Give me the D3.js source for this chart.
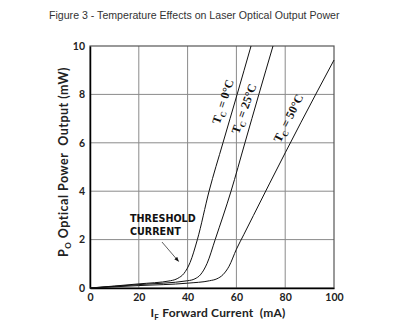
<!DOCTYPE html>
<html>
<head>
<meta charset="utf-8">
<script src="https://cdn.jsdelivr.net/npm/d3@7"></script>
<style>
  body { margin: 0; background: #fff; }
  svg { display: block; }
  text { white-space: pre; }
</style>
</head>
<body>
<div class="chart"></div>
<script>
// readings: [forward current mA, optical power mW]
const tc0 = [[0,0],[20,0.17],[33,0.3],[36,0.4],[38.5,0.6],[41,1.05],[44,2],[48.8,4],[54.5,6],[60.3,8],[66,10]];
const tc25 = [[0,0],[20,0.14],[40,0.3],[43,0.38],[45.2,0.54],[48,1.02],[51.3,2],[57.8,4],[63.5,6],[69.2,8],[75,10]];
const tc50 = [[0,0],[20,0.1],[40,0.2],[49,0.3],[52,0.38],[54.5,0.55],[57,0.9],[60,1.6],[63,2.2],[67,3.0],[73.5,4.3],[86.5,6.85],[100,9.42]];

const xTicks = [0, 20, 40, 60, 80, 100];
const yTicks = [0, 2, 4, 6, 8, 10];
const curveNames = ["0°C", "25°C", "50°C"];

const margin = {top: 46, left: 90, right: 78, bottom: 41};
const W = 412, H = 329;
const width = W - margin.left - margin.right,
      height = H - margin.top - margin.bottom;

const svg = d3.select(".chart").append("svg")
    .attr("width", W)
    .attr("height", H);

svg.append("text")
    .attr("x", 49).attr("y", 19)
    .attr("font-family", "Liberation Sans, Arial, sans-serif")
    .attr("font-size", 10.6)
    .attr("fill", "#333")
    .text("Figure 3 - Temperature Effects on Laser Optical Output Power");

const g = svg.append("g")
    .attr("transform", "translate(" + margin.left + "," + margin.top + ")");

const x = d3.scaleLinear().domain([0, 100]).range([0, width]);
const y = d3.scaleLinear().domain([0, 10]).range([height, 0]);

// grid
g.selectAll(".vgrid").data(xTicks.slice(1, -1)).enter().append("line")
    .attr("x1", d => x(d)).attr("x2", d => x(d))
    .attr("y1", 0).attr("y2", height)
    .attr("stroke", "#8a8a8a").attr("stroke-width", 1);
g.selectAll(".hgrid").data(yTicks.slice(1, -1)).enter().append("line")
    .attr("y1", d => y(d)).attr("y2", d => y(d))
    .attr("x1", 0).attr("x2", width)
    .attr("stroke", "#8a8a8a").attr("stroke-width", 1);

// frame
g.append("rect")
    .attr("width", width).attr("height", height)
    .attr("fill", "none").attr("stroke", "#555").attr("stroke-width", 1.2);

const tickFont = "Lato, 'Open Sans', sans-serif";

const xAxis = g.append("g")
    .attr("transform", "translate(0," + height + ")")
    .call(d3.axisBottom(x).tickValues(xTicks).tickSize(0).tickPadding(6));
const yAxis = g.append("g")
    .call(d3.axisLeft(y).tickValues(yTicks).tickSize(0).tickPadding(5));

[xAxis, yAxis].forEach(ax => {
    ax.select(".domain").attr("stroke", "#000").attr("stroke-width", 1.5);
    ax.selectAll("text")
        .attr("font-family", tickFont)
        .attr("font-weight", "bold")
        .attr("font-size", 10.5)
        .attr("fill", "#222");
});

// curves
const line = d3.line()
    .x(d => x(d[0]))
    .y(d => y(d[1]))
    .curve(d3.curveMonotoneX);

[tc0, tc25, tc50].forEach(s => {
    g.append("path")
        .attr("d", line(s))
        .attr("fill", "none")
        .attr("stroke", "#111")
        .attr("stroke-width", 1);
});

// curve labels, baseline running just left of each line
const labelPos = [{at: [57.6, 7.6], rot: -72, off: -4}, {at: [66.2, 7.3], rot: -70, off: -4}, {at: [84.6, 6.85], rot: -63, off: -5}];
labelPos.forEach((p, i) => {
    const t = g.append("text")
        .attr("transform", "translate(" + x(p.at[0]) + "," + y(p.at[1]) + ") rotate(" + p.rot + ")")
        .attr("text-anchor", "middle")
        .attr("dy", p.off)
        .attr("font-family", "'Liberation Serif', 'DejaVu Serif', serif")
        .attr("font-weight", "bold")
        .attr("font-size", 12)
        .attr("fill", "#111");
    t.append("tspan").text("T");
    t.append("tspan").attr("font-size", 8).attr("dy", 3).text("C");
    t.append("tspan").attr("dy", -3).text(" = " + curveNames[i]);
});

// threshold annotation
const ann = g.append("text")
    .attr("font-family", "'DejaVu Sans', sans-serif")
    .attr("font-weight", "bold")
    .attr("font-size", 9.6)
    .attr("fill", "#111");
ann.append("tspan").attr("x", x(16.4)).attr("y", y(0) - 65.7).text("THRESHOLD");
ann.append("tspan").attr("x", x(16.4)).attr("y", y(0) - 53).text("CURRENT");

svg.append("defs").append("marker")
    .attr("id", "arrow")
    .attr("viewBox", "0 0 10 10")
    .attr("refX", 9).attr("refY", 5)
    .attr("markerWidth", 6).attr("markerHeight", 6)
    .attr("orient", "auto")
    .append("path").attr("d", "M0,1 L10,5 L0,9 z").attr("fill", "#111");

g.append("line")
    .attr("x1", x(29.5)).attr("y1", y(1.9))
    .attr("x2", x(36.3)).attr("y2", y(1.1))
    .attr("stroke", "#333").attr("stroke-width", 0.8)
    .attr("marker-end", "url(#arrow)");

// axis titles
const yTitle = svg.append("text")
    .attr("transform", "translate(68,162) rotate(-90)")
    .attr("text-anchor", "middle")
    .attr("font-family", tickFont)
    .attr("font-weight", "bold")
    .attr("font-size", 12.5)
    .attr("letter-spacing", 0.5)
    .attr("fill", "#222");
yTitle.append("tspan").text("P");
yTitle.append("tspan").attr("font-size", 8).attr("dy", 3).text("O");
yTitle.append("tspan").attr("dy", -3).text(" Optical Power  Output (mW)");

const xTitle = svg.append("text")
    .attr("x", 218)
    .attr("y", 317)
    .attr("text-anchor", "middle")
    .attr("font-family", tickFont)
    .attr("font-weight", "bold")
    .attr("font-size", 12)
    .attr("letter-spacing", 0.2)
    .attr("fill", "#222");
xTitle.append("tspan").text("I");
xTitle.append("tspan").attr("font-size", 8).attr("dy", 3).text("F");
xTitle.append("tspan").attr("dy", -3).text(" Forward Current  (mA)");
</script>
</body>
</html>
